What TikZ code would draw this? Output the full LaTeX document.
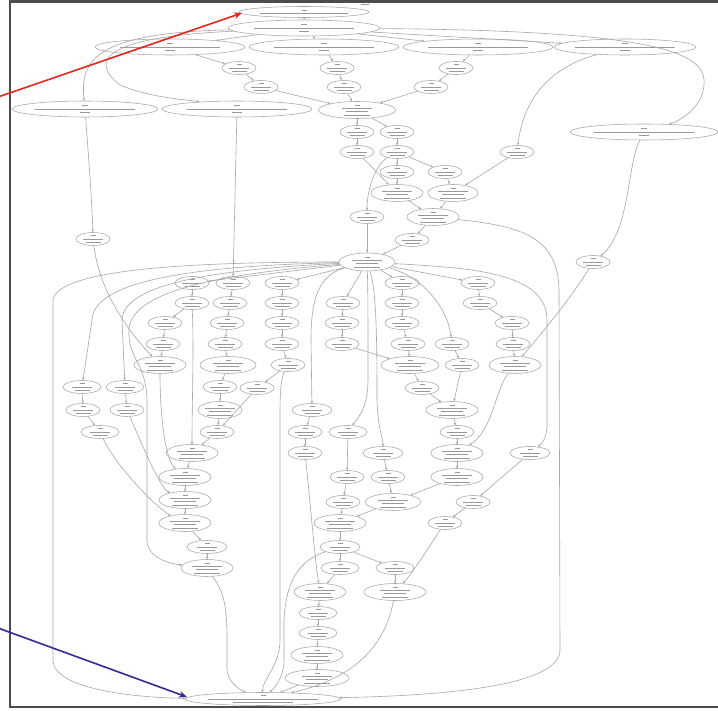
\documentclass[tikz,border=0pt]{standalone}
\usetikzlibrary{shapes.geometric,arrows.meta}
\newcommand\rr[1]{\rule{#1pt}{0.8pt}}
\newcommand\txS{\rr{5}\\\rr{20}\\\rr{15}}
\newcommand\txM{\rr{5}\\\rr{30}\\\rr{22}\\\rr{26}}
\newcommand\txW{\rr{6}\\\rr{100}\\\rr{10}}
\begin{document}
\begin{tikzpicture}[x=1pt,y=-1pt,
 gbase/.style={ellipse, draw=black!35, line width=0.55pt, inner sep=0pt, align=center, text=black!40, font=\fontsize{3}{3.3}\selectfont},
 gs/.style={gbase, minimum width=34pt, minimum height=13pt},
 gm/.style={gbase, minimum width=52pt, minimum height=17pt},
 gw/.style={gbase, minimum width=150pt, minimum height=16pt},
 ge/.style={draw=black!35, line width=0.6pt, -{Stealth[length=2.8pt,width=2.4pt]}},
 callout/.style={line width=1.6pt, -{Stealth[length=8pt,width=6.5pt]}}
]
\useasboundingbox (0,0) rectangle (718,711);
\fill[white] (0,0) rectangle (718,711);
\draw[line width=2.5pt, black!70] (10,1.5) rectangle (724,707);
\node[text=black!40, font=\fontsize{3}{3}\selectfont, inner sep=0] (lbl) at (365,4) {\rr{8}};
% top
\node[gw, minimum width=130pt, minimum height=11pt] (t0) at (304,12) {\rr{5}\\\rr{88}};
\node[gw, minimum width=152pt] (t1) at (304,28) {\txW};
\node[gw] (a2a) at (170,47) {\txW};
\node[gw] (a2b) at (324,47) {\txW};
\node[gw] (a2c) at (478,47) {\txW};
\node[gw, minimum width=140pt] (a2d) at (625,47) {\txW};
\node[gs] (b3a) at (239,68) {\txS};
\node[gs] (b3b) at (337,68) {\txS};
\node[gs] (b3c) at (456,68) {\txS};
\node[gs] (b4a) at (261,87) {\txS};
\node[gs] (b4b) at (344,87) {\txS};
\node[gs] (b4c) at (431,87) {\txS};
\node[gw, minimum width=146pt] (w5a) at (85,109) {\txW};
\node[gw] (w5b) at (237,109) {\txW};
\node[gm, minimum width=77pt] (C) at (357,110) {\txM};
\node[gw, minimum width=148pt] (wr) at (644,132) {\txW};
\node[gs] (a1) at (357,132) {\txS};
\node[gs] (b1) at (397,132) {\txS};
\node[gs] (a2) at (357,152) {\txS};
\node[gs] (b2) at (397,152) {\txS};
\node[gs] (p1) at (517,152) {\txS};
\node[gs] (b3) at (397,172) {\txS};
\node[gs] (c1) at (445,172) {\txS};
\node[gm] (d1) at (397,193) {\txM};
\node[gm, minimum width=50pt] (d2) at (453,193) {\txM};
\node[gs] (e1) at (367,217) {\txS};
\node[gm] (f1) at (433,217) {\txM};
\node[gs] (s1) at (93,239) {\txS};
\node[gs] (g1) at (412,240) {\txS};
\node[gm, minimum width=56pt, minimum height=18pt] (H) at (367,262) {\txM};
\node[gs] (q1) at (593,262) {\txS};
% row 283
\node[gs] (h1) at (192,283) {\txS};
\node[gs] (i1) at (233,283) {\txS};
\node[gs] (j1) at (282,283) {\txS};
\node[gs] (V1) at (402,283) {\txS};
\node[gs] (R1) at (478,283) {\txS};
\node[gs] (h2) at (192,303) {\txS};
\node[gs] (i2) at (230,303) {\txS};
\node[gs] (j2) at (282,303) {\txS};
\node[gs] (u1) at (343,303) {\txS};
\node[gs] (V2) at (402,303) {\txS};
\node[gs] (R2) at (480,303) {\txS};
\node[gs] (h3) at (165,323) {\txS};
\node[gs] (i3) at (227,323) {\txS};
\node[gs] (j3) at (282,323) {\txS};
\node[gs] (u2) at (342,323) {\txS};
\node[gs] (V3) at (402,323) {\txS};
\node[gs] (R3) at (512,323) {\txS};
\node[gs] (h4) at (163,344) {\txS};
\node[gs] (i4) at (225,344) {\txS};
\node[gs] (j4) at (282,344) {\txS};
\node[gs] (u3) at (342,344) {\txS};
\node[gs] (V4) at (408,344) {\txS};
\node[gs] (X1) at (452,344) {\txS};
\node[gs] (R4) at (513,344) {\txS};
\node[gm] (h5) at (160,365) {\txM};
\node[gm, minimum width=56pt] (i5) at (228,365) {\txM};
\node[gs] (j5) at (288,365) {\txS};
\node[gm, minimum width=58pt] (V5) at (410,365) {\txM};
\node[gs] (X2) at (462,365) {\txS};
\node[gm] (R5) at (515,365) {\txM};
\node[gs, minimum width=38pt] (m1) at (82,387) {\txS};
\node[gs, minimum width=38pt] (m4) at (125,387) {\txS};
\node[gs] (i6) at (220,387) {\txS};
\node[gs] (j6) at (257,388) {\txS};
\node[gs] (V6) at (422,388) {\txS};
\node[gs] (m2) at (83,410) {\txS};
\node[gs] (m5) at (127,410) {\txS};
\node[gm, minimum width=44pt] (i7) at (220,410) {\txM};
\node[gs, minimum width=40pt] (y1) at (312,410) {\txS};
\node[gm] (W1) at (452,410) {\txM};
\node[gs, minimum width=38pt] (m3) at (100,432) {\txS};
\node[gs] (i8) at (217,432) {\txS};
\node[gs] (y2) at (305,432) {\txS};
\node[gs, minimum width=38pt] (z1) at (348,432) {\txS};
\node[gs] (W2) at (457,432) {\txS};
\node[gm] (k1) at (192,453) {\txM};
\node[gs] (y3) at (305,453) {\txS};
\node[gs, minimum width=40pt] (z2) at (383,453) {\txS};
\node[gm] (W3) at (457,453) {\txM};
\node[gs, minimum width=40pt] (S1) at (530,453) {\txS};
\node[gm] (n2) at (185,477) {\txM};
\node[gs] (z3) at (347,477) {\txS};
\node[gs] (z4) at (388,477) {\txS};
\node[gm] (W4) at (457,477) {\txM};
\node[gm] (n3) at (185,500) {\txM};
\node[gs] (z5) at (343,502) {\txS};
\node[gm, minimum width=55pt] (z6) at (393,502) {\txM};
\node[gs] (T1) at (473,502) {\txS};
\node[gm] (n4) at (185,523) {\txM};
\node[gm] (z7) at (340,523) {\txM};
\node[gs] (T2) at (445,523) {\txS};
\node[gs, minimum width=40pt] (n5) at (207,547) {\txS};
\node[gs, minimum width=40pt] (z8) at (340,547) {\txS};
\node[gm] (n6) at (207,568) {\txM};
\node[gs, minimum width=38pt] (z9) at (340,568) {\txS};
\node[gs, minimum width=38pt] (z10) at (395,568) {\txS};
\node[gm] (L1) at (320,592) {\txM};
\node[gm, minimum width=62pt] (L2) at (395,592) {\txM};
\node[gs, minimum width=38pt] (L3) at (318,613) {\txS};
\node[gs, minimum width=38pt] (L4) at (318,633) {\txS};
\node[gm] (L5) at (317,655) {\txM};
\node[gm, minimum width=64pt] (L6) at (317,678) {\txM};
\node[gw, minimum width=155pt, minimum height=13pt] (B) at (263,699) {\rr{5}\\\rr{110}\\\rr{60}};
% straight edges
\foreach \a/\b in {t0/t1,t1/a2a,t1/a2b,t1/a2c,t1/a2d,
  a2a/b3a,b3a/b4a,b4a/C,a2b/b3b,b3b/b4b,b4b/C,a2c/b3c,b3c/b4c,b4c/C,
  C/a1,C/b1,a1/a2,b1/b2,a2/d1,b2/b3,b2/c1,b3/d1,c1/d2,p1/d2,d1/f1,d2/f1,
  f1/g1,g1/H,e1/H,w5b/i1,
  H/h1,H/j1,H/V1,H/R1,H/u1,
  h1/h2,h2/h3,h3/h4,h4/h5,
  i1/i2,i2/i3,i3/i4,i4/i5,i5/i6,i6/i7,i7/i8,i8/k1,
  j1/j2,j2/j3,j3/j4,j4/j5,j5/j6,j6/i8,
  u1/u2,u2/u3,u3/V5,
  V1/V2,V2/V3,V3/V4,V4/V5,V5/V6,V6/W1,
  R1/R2,R2/R3,R3/R4,R4/R5,
  X1/X2,X2/W1,W1/W2,W2/W3,W3/W4,W4/z6,
  S1/T1,T1/T2,
  k1/n2,n2/n3,n3/n4,n4/n5,n5/n6,
  m1/m2,m2/m3,m4/m5,
  y1/y2,y2/y3,
  z1/z3,z3/z5,z5/z7,z2/z4,z4/z6,z6/z7,z7/z8,z8/z9,z8/z10,
  z9/L1,z10/L2,L1/L3,L3/L4,L4/L5,L5/L6,L6/B}
  \draw[ge] (\a) -- (\b);
% curved edges
\draw[ge] (t1) .. controls (95,33) and (80,60) .. (w5a);
\draw[ge] (t1) .. controls (105,37) and (88,60) .. (120,85) .. controls (150,98) and (190,100) .. (w5b);
\draw[ge] (t1) .. controls (700,31) and (712,60) .. (702,95) .. controls (696,110) and (682,120) .. (wr);
\draw[ge] (a2d) .. controls (540,70) and (522,110) .. (p1);
\draw[ge] (b2) .. controls (375,165) and (367,190) .. (e1);
\draw[ge] (f1) .. controls (520,226) and (558,236) .. (559,290) -- (560,650) .. controls (560,688) and (430,696) .. (B);
\draw[ge] (w5a) .. controls (88,150) and (92,200) .. (s1);
\draw[ge] (s1) .. controls (100,295) and (132,335) .. (h5);
\draw[ge] (wr) .. controls (627,165) and (630,232) .. (q1);
\draw[ge] (q1) .. controls (570,300) and (540,335) .. (R5);
\draw[ge] (H) .. controls (470,268) and (547,272) .. (547,320) -- (547,425) .. controls (547,440) and (540,445) .. (S1);
\draw[ge] (H) .. controls (200,262) and (58,268) .. (53,300) -- (53,660) .. controls (53,692) and (150,698) .. (B);
\draw[ge] (H) .. controls (240,265) and (93,273) .. (92,320) -- (m1);
\draw[ge] (H) .. controls (250,268) and (123,278) .. (122,320) -- (m4);
\draw[ge] (H) .. controls (260,271) and (130,284) .. (129,330) .. controls (128,360) and (146,362) .. (147,400) -- (147,540) .. controls (147,556) and (165,563) .. (n6);
\draw[ge] (H) .. controls (318,275) and (311,300) .. (311,340) -- (y1);
\draw[ge] (H) .. controls (368,290) and (368,320) .. (368,380) .. controls (368,410) and (356,420) .. (z1);
\draw[ge] (H) .. controls (376,290) and (377,330) .. (377,400) .. controls (378,430) and (383,438) .. (z2);
\draw[ge] (H) .. controls (420,276) and (447,305) .. (X1);
\draw[ge] (h2) .. controls (194,350) and (192,400) .. (k1);
\draw[ge] (h5) .. controls (160,420) and (166,460) .. (n2);
\draw[ge] (m3) .. controls (118,470) and (160,510) .. (n4);
\draw[ge] (m5) .. controls (140,440) and (160,488) .. (n3);
\draw[ge] (R5) .. controls (495,390) and (493,430) .. (W3);
\draw[ge] (T2) .. controls (430,545) and (415,570) .. (L2);
\draw[ge] (y3) .. controls (310,500) and (315,560) .. (L1);
\draw[ge] (j5) .. controls (280,380) and (280,400) .. (280,420) -- (280,640) .. controls (280,666) and (262,680) .. (B);
\draw[ge] (n6) .. controls (222,590) and (227,600) .. (227,640) -- (227,668) .. controls (227,685) and (245,692) .. (B);
\draw[ge] (z8) .. controls (300,560) and (286,580) .. (284,620) -- (284,660) .. controls (284,680) and (272,690) .. (B);
\draw[ge] (L2) .. controls (388,630) and (370,675) .. (B);
% callout arrows
\coordinate (ra) at (-2,97);
\coordinate (rb) at (242,13);
\draw[callout, draw={rgb,255:red,226;green,40;blue,30}, fill={rgb,255:red,226;green,40;blue,30}] (ra) -- (rb);
\coordinate (ba) at (-2,628);
\coordinate (bb) at (187,697);
\draw[callout, draw={rgb,255:red,52;green,42;blue,150}, fill={rgb,255:red,52;green,42;blue,150}] (ba) -- (bb);
\end{tikzpicture}
\end{document}
